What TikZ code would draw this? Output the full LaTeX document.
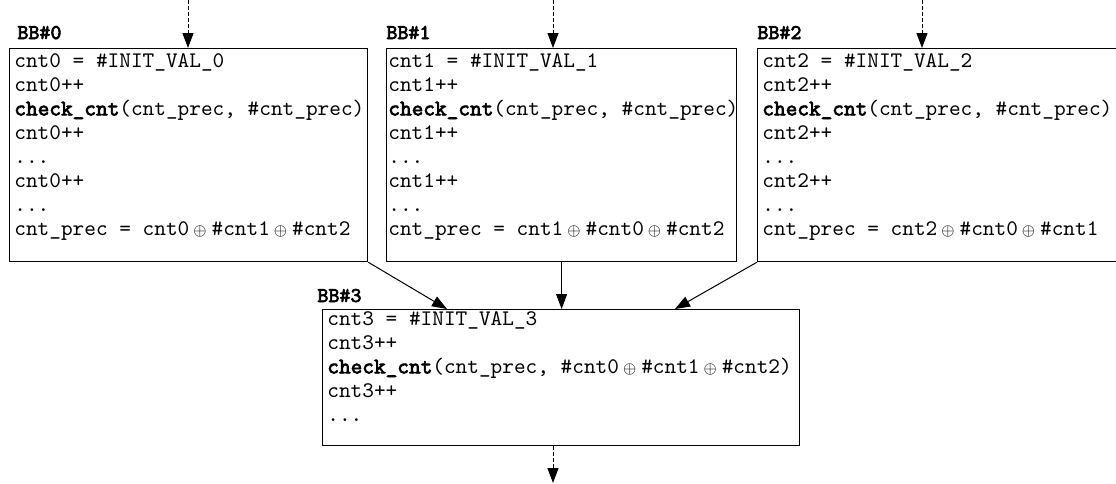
\documentclass[tikz,border=0pt]{standalone}
\usepackage{fontspec}
\setmonofont{lmmono10-regular.otf}[BoldFont=lmmono10-regular.otf, BoldFeatures={FakeBold=3}]
\usetikzlibrary{arrows.meta}
\newcommand{\xo}{\hspace{2pt}{\fontsize{8.4}{12}\selectfont$\oplus$}\hspace{2.5pt}}
\newcommand{\cc}{\textbf{check\_cnt}}
\begin{document}
\begin{tikzpicture}[x=0.5pt,y=-0.5pt,
  box/.style={draw, line width=0.6pt, inner sep=0pt, anchor=north west},
  code/.style={anchor=north west, inner sep=0pt, align=left, font=\ttfamily\fontsize{11.11}{12}\selectfont},
  lbl/.style={anchor=base west, inner sep=0pt, font=\ttfamily\bfseries\fontsize{10.5}{12}\selectfont},
  flow/.style={line width=0.5pt, -{Triangle[length=7.5pt,width=5.5pt]}},
  dflow/.style={flow, dash pattern=on 2pt off 1pt}]
\useasboundingbox (0,0) rectangle (1116,483);

% boxes
\node[box, minimum width=179pt, minimum height=106.5pt] (b0) at (9,48) {};
\node[box, minimum width=175pt, minimum height=106.5pt] (b1) at (386,48) {};
\node[box, minimum width=190pt, minimum height=106.5pt] (b2) at (757,48) {};
\node[box, minimum width=238.5pt, minimum height=68pt] (b3) at (322,309) {};

% labels
\node[lbl] (l0) at (17,39) {BB\#0};
\node[lbl] (l1) at (386,39) {BB\#1};
\node[lbl] (l2) at (757,39) {BB\#2};
\node[lbl] (l3) at (317,302) {BB\#3};

% code
\node[code] (c0) at (14,50.2) {%
\strut cnt0 = \#INIT\_VAL\_0\\
\strut cnt0++\\
\strut \cc(cnt\_prec, \#cnt\_prec)\\
\strut cnt0++\\
\strut ...\\
\strut cnt0++\\
\strut ...\\
\strut cnt\_prec = cnt0\xo\#cnt1\xo\#cnt2};

\node[code] (c1) at (388,50.2) {%
\strut cnt1 = \#INIT\_VAL\_1\\
\strut cnt1++\\
\strut \cc(cnt\_prec, \#cnt\_prec)\\
\strut cnt1++\\
\strut ...\\
\strut cnt1++\\
\strut ...\\
\strut cnt\_prec = cnt1\xo\#cnt0\xo\#cnt2};

\node[code] (c2) at (762,50.2) {%
\strut cnt2 = \#INIT\_VAL\_2\\
\strut cnt2++\\
\strut \cc(cnt\_prec, \#cnt\_prec)\\
\strut cnt2++\\
\strut ...\\
\strut cnt2++\\
\strut ...\\
\strut cnt\_prec = cnt2\xo\#cnt0\xo\#cnt1};

\node[code] (c3) at (327,308.2) {%
\strut cnt3 = \#INIT\_VAL\_3\\
\strut cnt3++\\
\strut \cc(cnt\_prec, \#cnt0\xo\#cnt1\xo\#cnt2)\\
\strut cnt3++\\
\strut ...};

% connectors
\coordinate (s0) at (188,0);
\coordinate (s1) at (553,0);
\coordinate (s2) at (922,0);
\coordinate (e3) at (553,483);
\coordinate (t0) at (447,309);
\coordinate (t2) at (675,309);

\draw[dflow] (s0) -- (s0 |- b0.north);
\draw[dflow] (s1) -- (s1 |- b1.north);
\draw[dflow] (s2) -- (s2 |- b2.north);
\draw[dflow] (e3 |- b3.south) -- (e3);

\draw[flow] (b0.south east) -- (t0);
\draw[flow] (b1.south) -- (b1.south |- b3.north);
\draw[flow] (b2.south west) -- (t2);
\end{tikzpicture}
\end{document}
